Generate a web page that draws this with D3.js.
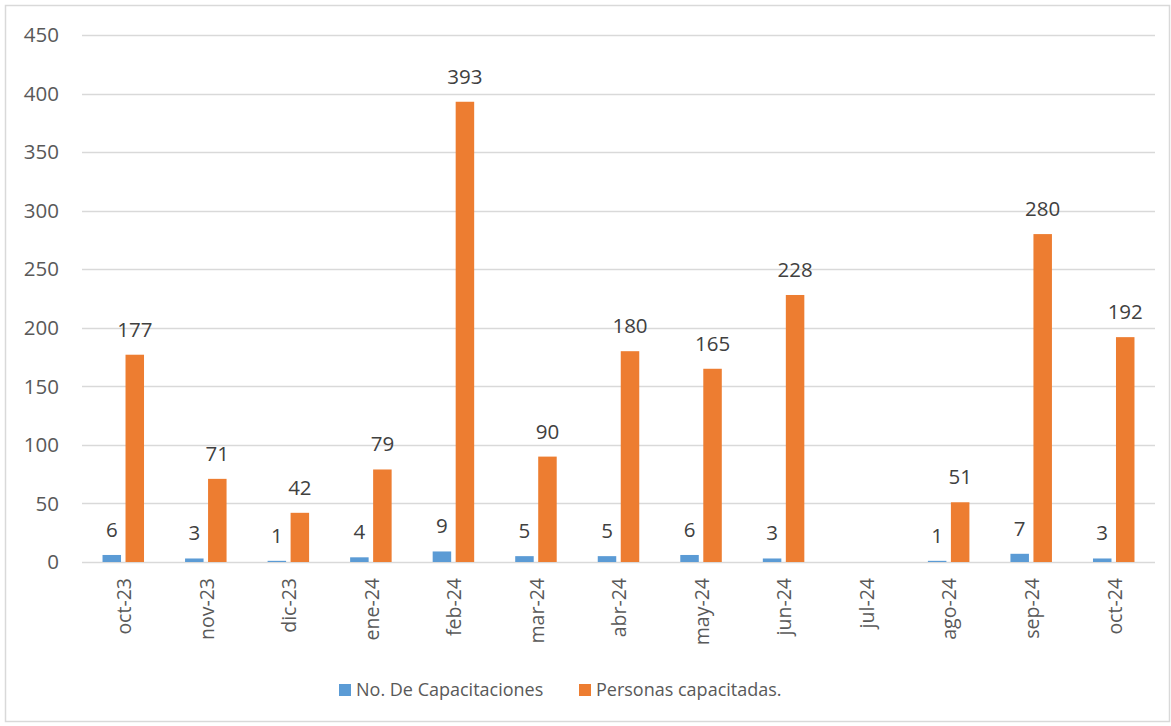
<!DOCTYPE html>
<html>
<head>
<meta charset="utf-8">
<script src="https://cdn.jsdelivr.net/npm/d3@7"></script>
<style>
  body { margin: 0; background: #fff; }
  svg { font-family: "Open Sans", "Noto Sans", sans-serif; }
</style>
</head>
<body>
<div id="wrapper"></div>
<script>
// data
const months = ["oct-23", "nov-23", "dic-23", "ene-24", "feb-24", "mar-24", "abr-24",
  "may-24", "jun-24", "jul-24", "ago-24", "sep-24", "oct-24"]
const capacitaciones = [6, 3, 1, 4, 9, 5, 5, 6, 3, null, 1, 7, 3]
const personas = [177, 71, 42, 79, 393, 90, 180, 165, 228, null, 51, 280, 192]
const seriesNames = ["No. De Capacitaciones", "Personas capacitadas."]
const seriesColors = ["#5b9bd5", "#ed7d31"]
const yTicks = [0, 50, 100, 150, 200, 250, 300, 350, 400, 450]

const rows = months.map((m, i) => ({ month: m, values: [capacitaciones[i], personas[i]] }))

// dimensions
const width = 1171
const height = 726
let dimensions = {
  width,
  height,
  margin: { top: 35, right: 16, bottom: 164, left: 82 }
}
dimensions.boundedWidth = dimensions.width - dimensions.margin.left - dimensions.margin.right
dimensions.boundedHeight = 562 - dimensions.margin.top

const wrapper = d3.select("#wrapper")
  .append("svg")
    .attr("width", dimensions.width)
    .attr("height", dimensions.height)

// chart border
wrapper.append("rect")
    .attr("x", 5.5).attr("y", 5.5)
    .attr("width", 1164).attr("height", 716)
    .attr("fill", "#fff")
    .attr("stroke", "#d9d9d9")
    .attr("stroke-width", 1.5)

const bounds = wrapper.append("g")
    .attr("transform", `translate(${dimensions.margin.left},${dimensions.margin.top})`)

// scales
const xScale = d3.scaleBand()
    .domain(months)
    .range([0, dimensions.boundedWidth])

const yScale = d3.scaleLinear()
    .domain([0, 450])
    .range([dimensions.boundedHeight, 0])

const barW = 18.5
const gap = 4.5
const offsets = [-(barW + gap / 2), gap / 2]

// gridlines
bounds.append("g")
  .selectAll("line")
  .data(yTicks)
  .join("line")
    .attr("x1", 0)
    .attr("x2", dimensions.boundedWidth)
    .attr("y1", d => Math.round(yScale(d)) + 0.5)
    .attr("y2", d => Math.round(yScale(d)) + 0.5)
    .attr("stroke", "#d9d9d9")
    .attr("stroke-width", 1.5)

// y axis labels
bounds.append("g")
  .selectAll("text")
  .data(yTicks)
  .join("text")
    .attr("x", -23)
    .attr("y", d => yScale(d))
    .attr("dy", "0.35em")
    .attr("text-anchor", "end")
    .attr("fill", "#595959")
    .style("font-size", "20.5px")
    .text(d => d)

// bars
const groups = bounds.selectAll(".grp")
  .data(rows)
  .join("g")
    .attr("class", "grp")
    .attr("transform", d => `translate(${xScale(d.month) + xScale.bandwidth() / 2},0)`)

groups.selectAll("rect")
  .data(d => d.values.map((v, i) => ({ v, i })).filter(e => e.v != null))
  .join("rect")
    .attr("x", d => offsets[d.i])
    .attr("width", barW)
    .attr("y", d => yScale(d.v))
    .attr("height", d => dimensions.boundedHeight - yScale(d.v))
    .attr("fill", d => seriesColors[d.i])

groups.selectAll("text")
  .data(d => d.values.map((v, i) => ({ v, i })).filter(e => e.v != null))
  .join("text")
    .attr("x", d => offsets[d.i] + barW / 2)
    .attr("y", d => yScale(d.v) - 18)
    .attr("text-anchor", "middle")
    .attr("fill", "#404040")
    .style("font-size", "20.5px")
    .text(d => d.v)

// x axis labels (rotated)
bounds.append("g")
  .selectAll("text")
  .data(months)
  .join("text")
    .attr("transform", d => `translate(${xScale(d) + xScale.bandwidth() / 2 + 1},${dimensions.boundedHeight + 16}) rotate(-90)`)
    .attr("dy", "0.35em")
    .attr("text-anchor", "end")
    .attr("fill", "#595959")
    .style("font-size", "19.5px")
    .text(d => d)

// legend
const legendItems = [
  { name: seriesNames[0], color: seriesColors[0], x: 339 },
  { name: seriesNames[1], color: seriesColors[1], x: 579 }
]
const legend = wrapper.append("g")
  .selectAll("g")
  .data(legendItems)
  .join("g")
    .attr("transform", d => `translate(${d.x},690)`)
legend.append("rect")
    .attr("x", 0).attr("y", -6)
    .attr("width", 12).attr("height", 12)
    .attr("fill", d => d.color)
legend.append("text")
    .attr("x", 17)
    .attr("dy", "0.35em")
    .attr("fill", "#595959")
    .style("font-size", "18px")
    .text(d => d.name)
</script>
</body>
</html>
